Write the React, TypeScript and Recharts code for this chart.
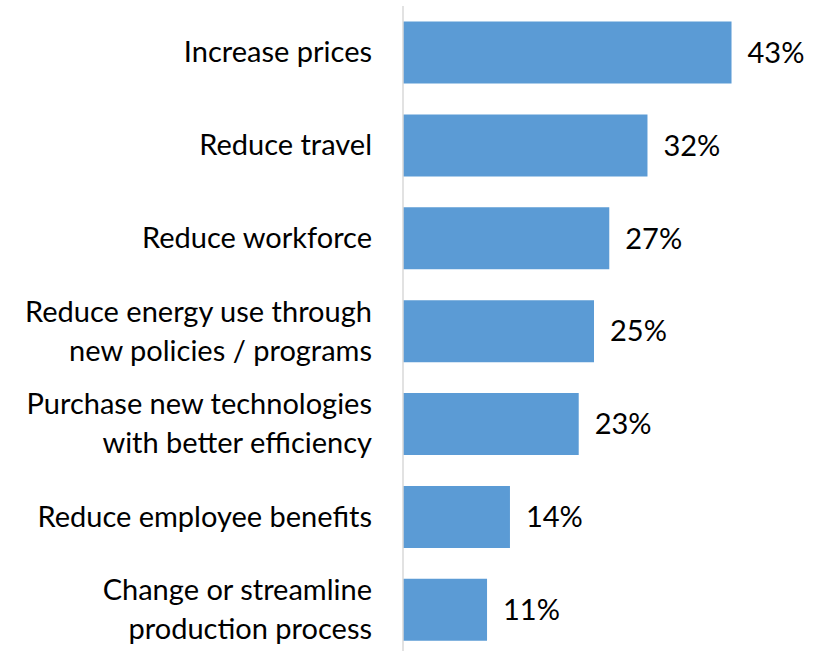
import { BarChart, Bar, XAxis, YAxis, LabelList } from 'recharts';

const CATEGORIES = [
    ['Increase prices'],
    ['Reduce travel'],
    ['Reduce workforce'],
    ['Reduce energy use through', 'new policies / programs'],
    ['Purchase new technologies', 'with better efficiency'],
    ['Reduce employee benefits'],
    ['Change or streamline', 'production process'],
];
const VALUES = [43, 32, 27, 25, 23, 14, 11];

const FONT = 'Lato, "Open Sans", sans-serif';
const FONT_SIZE = 29;
const BAR_COLOR = '#5B9BD5';

const data = CATEGORIES.map((lines, i) => ({
    name: lines.join('\n'),
    value: VALUES[i],
}));

const CategoryTick = (props: any) => {
    const { y, payload } = props;
    const lines: string[] = String(payload.value).split('\n');
    const lineGap = 39;
    const startDy = -((lines.length - 1) * lineGap) / 2;
    return (
        <text
            x={372}
            y={y}
            textAnchor="end"
            fontFamily={FONT}
            fontSize={FONT_SIZE}
            fill="#000"
        >
            {lines.map((line, i) => (
                <tspan key={i} x={372} dy={i === 0 ? startDy + 10 : lineGap}>
                    {line}
                </tspan>
            ))}
        </text>
    );
};

const App = () => {
    return (
        <div
            style={{
                position: 'absolute',
                left: 0,
                top: 0,
                width: 817,
                height: 651,
                overflow: 'hidden',
                background: '#fff',
            }}
        >
            <BarChart
                width={817}
                height={656}
                data={data}
                layout="vertical"
                margin={{ top: 6, right: 32, bottom: 0, left: 0 }}
                barCategoryGap="16.8%"
            >
                <XAxis type="number" domain={[0, 50]} hide />
                <YAxis
                    type="category"
                    dataKey="name"
                    width={403}
                    axisLine={{ stroke: '#D9D9D9', strokeWidth: 1.5 }}
                    tickLine={false}
                    tick={<CategoryTick />}
                    interval={0}
                />
                <Bar
                    dataKey="value"
                    fill={BAR_COLOR}
                    isAnimationActive={false}
                >
                    <LabelList
                        dataKey="value"
                        position="right"
                        offset={16}
                        formatter={(v: any) => `${v}%`}
                        style={{ fontFamily: FONT, fontSize: FONT_SIZE, fill: '#000' }}
                    />
                </Bar>
            </BarChart>
        </div>
    );
};

export default App;
